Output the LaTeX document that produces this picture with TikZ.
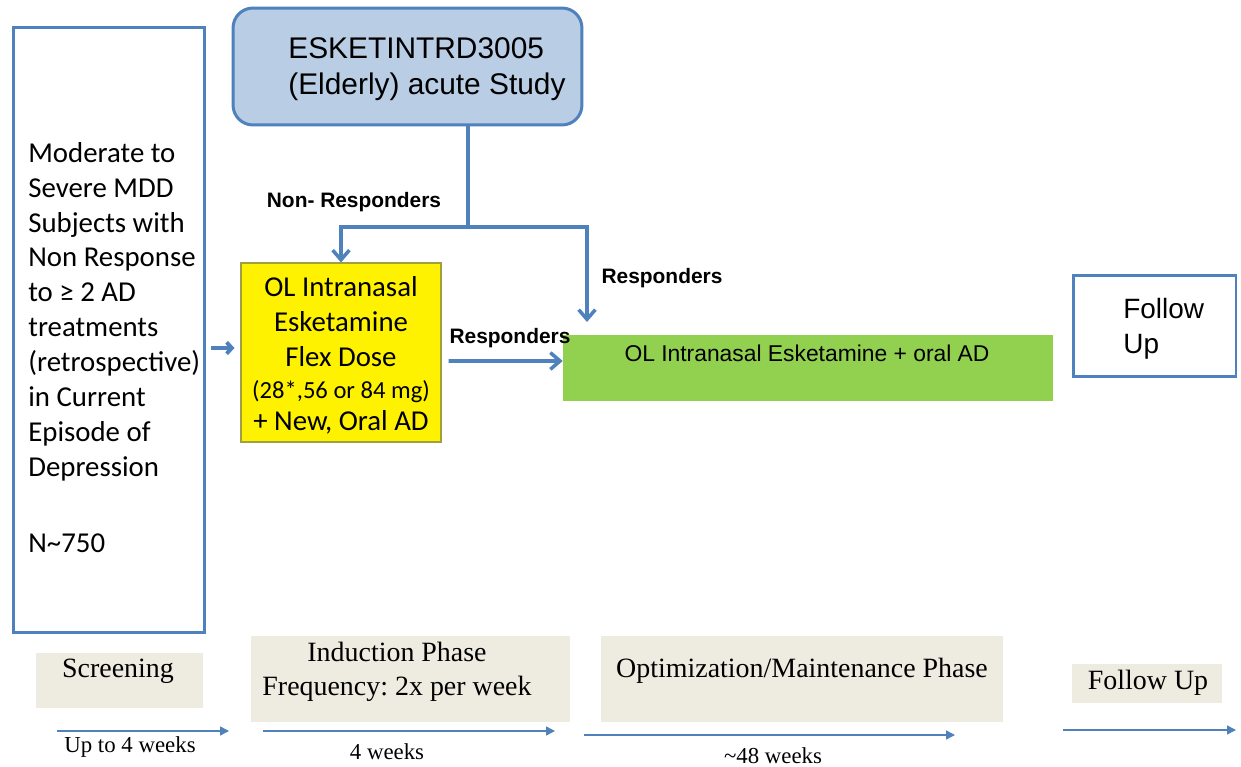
\documentclass[tikz,border=0pt]{standalone}
\usepackage{fontspec}
\setmainfont{Liberation Serif}
\newfontfamily\calfont{Carlito}
\newfontfamily\arialfont{Liberation Sans}
\usetikzlibrary{arrows.meta,calc}
\definecolor{obl}{HTML}{4F81BD}
\definecolor{lbl}{HTML}{B9CDE5}
\definecolor{beige}{HTML}{EEECE1}
\definecolor{lgreen}{HTML}{92D050}
\definecolor{yborder}{HTML}{A0A040}
\frenchspacing
\begin{document}
\begin{tikzpicture}[x=0.02cm,y=-0.02cm,
  bluebox/.style={draw=obl,line width=1.7pt,fill=white,inner sep=0pt},
  beigebox/.style={fill=beige,inner sep=0pt},
  conn/.style={draw=obl,line width=2pt},
  arr/.style={conn,-{Straight Barb[length=5.5pt,width=9.5pt]}},
  smallarr/.style={draw=obl,line width=2.2pt,-{Straight Barb[length=3pt,width=6.5pt]}},
  tl/.style={draw=obl,line width=0.8pt,-{Triangle[length=5pt,width=5pt]}},
  lab/.style={font=\arialfont\bfseries\fontsize{11.9}{14}\selectfont,inner sep=0pt},
  btxt/.style={font=\fontsize{15.9}{19.3}\selectfont,inner sep=0pt},
  stxt/.style={font=\fontsize{13}{15}\selectfont,inner sep=0pt}
]
\fill[white] (0,0) rectangle (1241,767);
\useasboundingbox (0,0) rectangle (1241,767);

% left box
\node[bluebox,minimum width=3.84cm,minimum height=12.12cm] (subj) at (109,330) {};
\node[font=\calfont\fontsize{16.4}{19.85}\selectfont,inner sep=0pt,anchor=north west,align=left] (subjtxt) at (28,142)
  {Moderate to\\Severe MDD\\Subjects with\\Non Response\\to ≥ 2 AD\\treatments\\(retrospective)\\in Current\\Episode of\\Depression\\[23.8pt]N\textasciitilde750};

% top study box
\node[draw=obl,line width=1.7pt,fill=lbl,rounded corners=0.4cm,minimum width=6.98cm,minimum height=2.34cm,inner sep=0pt] (study) at (407.5,66.5) {};
\node[font=\arialfont\fontsize{17}{20.4}\selectfont,inner sep=0pt,anchor=north west,align=left] (studytxt) at (288,37)
  {ESKETINTRD3005\\(Elderly) acute Study};

% yellow box
\node[draw=yborder,line width=0.6pt,fill=yellow,minimum width=4cm,minimum height=3.58cm,inner sep=0pt] (yellow) at (341,352.5) {};
\node[align=center,inner sep=0pt,font=\calfont\fontsize{16.4}{19.85}\selectfont] (ytxt) at (341,355.5)
  {OL Intranasal\\Esketamine\\Flex Dose\\[-1.7pt]{\fontsize{14}{16}\selectfont (28*,56 or 84 mg)}\\[-1.7pt]+ New, Oral AD};

% green box
\node[fill=lgreen,minimum width=9.8cm,minimum height=1.32cm,inner sep=0pt] (green) at (808,368) {};
\node[font=\arialfont\fontsize{13}{15}\selectfont,inner sep=0pt] (greentxt) at (807,353) {OL Intranasal Esketamine + oral AD};

% follow up box
\node[bluebox,minimum width=3.26cm,minimum height=2.04cm] (fubox) at (1154.5,326) {};
\node[font=\arialfont\fontsize{15.9}{19.8}\selectfont,anchor=north west,align=left,inner sep=0pt] (futxt) at (1123,298) {Follow\\Up};

% connectors
\coordinate (j) at (468,227);
\coordinate (rtip) at (587,322);
\draw[conn] (study.south -| j) -- (j);
\draw[arr] (j) -| (yellow.north);
\draw[arr] (j) -| (rtip);
\draw[smallarr] ($(subj.east)+(5,18)$) -- ($(yellow.west)+(-6,-4.5)$);
\draw[arr] ($(yellow.east)+(7,8.5)$) -- ($(green.west)+(0,-7)$);

% labels
\node[lab] (nrl) at (354,202) {Non- Responders};
\node[lab] (rl1) at (662,278) {Responders};
\node[lab] (rl2) at (510,338) {Responders};

% bottom phases
\node[beigebox,minimum width=3.34cm,minimum height=1.1cm] (scr) at (119.5,680.5) {};
\node[btxt] (scrt) at (118,671) {Screening};
\node[beigebox,minimum width=6.38cm,minimum height=1.72cm] (ind) at (410.5,679) {};
\node[btxt,align=center] (indt) at (397,672) {Induction Phase\\Frequency: 2x per week};
\node[beigebox,minimum width=8.04cm,minimum height=1.72cm] (opt) at (802,679) {};
\node[btxt] (optt) at (802,671) {Optimization/Maintenance Phase};
\node[beigebox,minimum width=3cm,minimum height=0.78cm] (fub) at (1147,683.5) {};
\node[btxt] (fubt) at (1148,683) {Follow Up};

% timeline arrows
\coordinate (a1s) at (57,731);  \coordinate (a1e) at (229,731);
\coordinate (a2s) at (263,731); \coordinate (a2e) at (555,731);
\coordinate (a3s) at (584,735); \coordinate (a3e) at (955,735);
\coordinate (a4s) at (1063,730); \coordinate (a4e) at (1236,730);
\draw[tl] (a1s) -- (a1e);
\draw[tl] (a2s) -- (a2e);
\draw[tl] (a3s) -- (a3e);
\draw[tl] (a4s) -- (a4e);
\node[stxt] (w1) at (130,747) {Up to 4 weeks};
\node[stxt] (w2) at (387,752) {4 weeks};
\node[stxt] (w3) at (773,756) {\textasciitilde48 weeks};
\end{tikzpicture}
\end{document}
